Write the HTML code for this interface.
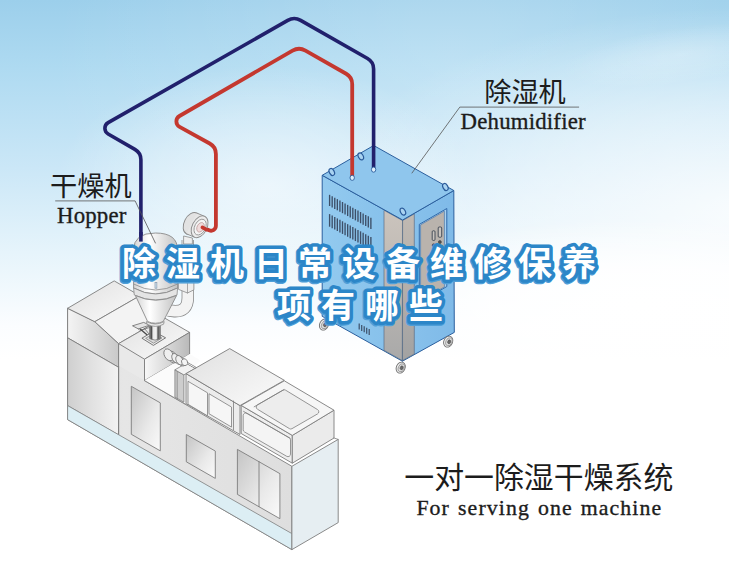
<!DOCTYPE html>
<html><head><meta charset="utf-8"><title>Dehumidifier drying system</title>
<style>
html,body{margin:0;padding:0;background:#fff;}
body{width:729px;height:561px;overflow:hidden;position:relative;font-family:"Liberation Serif",serif;}
svg{position:absolute;left:0;top:0;display:block;}
.t{position:absolute;white-space:nowrap;color:#1c1c1c;font-family:"Liberation Serif",serif;line-height:1;-webkit-text-stroke:0.35px #1c1c1c;}
#hop{left:57.0px;top:205.0px;font-size:22.8px;letter-spacing:0.2px;}
#deh{left:460.6px;top:111.0px;font-size:22.8px;letter-spacing:0.2px;}
#one{left:416.4px;top:498.4px;font-size:21.8px;letter-spacing:1.1px;word-spacing:1.5px;}
</style></head>
<body>
<svg width="729" height="561" viewBox="0 0 729 561" role="img" aria-label="One-to-one dehumidifying and drying system diagram"><title>一对一除湿干燥系统 – For serving one machine</title><defs>
<linearGradient id="bg" x1="0" y1="0" x2="0" y2="1">
 <stop offset="0" stop-color="#9ccfeb"/><stop offset="0.12" stop-color="#aedaf1"/>
 <stop offset="0.30" stop-color="#cbe7f7"/><stop offset="0.45" stop-color="#e6f4fb"/>
 <stop offset="0.58" stop-color="#fbfdff"/><stop offset="0.64" stop-color="#ffffff"/>
</linearGradient>
<radialGradient id="bg2" cx="0.62" cy="0.12" r="0.55">
 <stop offset="0" stop-color="#ffffff" stop-opacity="0.22"/><stop offset="1" stop-color="#ffffff" stop-opacity="0"/>
</radialGradient>
<radialGradient id="bg4" cx="0.5" cy="0.5" r="0.5">
 <stop offset="0" stop-color="#ffffff" stop-opacity="0.82"/><stop offset="0.5" stop-color="#ffffff" stop-opacity="0.46"/><stop offset="1" stop-color="#ffffff" stop-opacity="0"/>
</radialGradient>
<radialGradient id="bg5" cx="0.5" cy="0.5" r="0.5">
 <stop offset="0" stop-color="#ffffff" stop-opacity="1"/><stop offset="0.45" stop-color="#ffffff" stop-opacity="0.85"/><stop offset="1" stop-color="#ffffff" stop-opacity="0"/>
</radialGradient>
<radialGradient id="bg3" cx="0.5" cy="0.5" r="0.5">
 <stop offset="0" stop-color="#ffffff" stop-opacity="0.55"/><stop offset="0.55" stop-color="#ffffff" stop-opacity="0.28"/><stop offset="1" stop-color="#ffffff" stop-opacity="0"/>
</radialGradient>
<linearGradient id="gFrontA" x1="0" y1="0" x2="1" y2="0"><stop offset="0" stop-color="#f4f4f4"/><stop offset="1" stop-color="#c9c9c9"/></linearGradient>
<linearGradient id="gFrontB" x1="0" y1="0" x2="1" y2="0"><stop offset="0" stop-color="#cfcfcf"/><stop offset="0.5" stop-color="#e2e2e2"/><stop offset="1" stop-color="#f2f2f2"/></linearGradient>
<linearGradient id="gBody" x1="0" y1="0" x2="1" y2="0"><stop offset="0" stop-color="#dcdcdc"/><stop offset="0.25" stop-color="#e6e6e6"/><stop offset="1" stop-color="#dedede"/></linearGradient>
<linearGradient id="gRightFace" x1="0" y1="0" x2="1" y2="0"><stop offset="0" stop-color="#f8f8f8"/><stop offset="1" stop-color="#b9b9b9"/></linearGradient>
<linearGradient id="gDoor" x1="0" y1="0" x2="1" y2="1"><stop offset="0" stop-color="#c4c4c4"/><stop offset="0.6" stop-color="#e9e9e9"/><stop offset="1" stop-color="#fafafa"/></linearGradient>
<linearGradient id="gTop" x1="0" y1="0" x2="1" y2="1"><stop offset="0" stop-color="#e0e0e0"/><stop offset="1" stop-color="#fbfbfb"/></linearGradient>
<linearGradient id="gCyl" x1="0" y1="0" x2="1" y2="0"><stop offset="0" stop-color="#d4d4d4"/><stop offset="0.35" stop-color="#ffffff"/><stop offset="1" stop-color="#c2c2c2"/></linearGradient>
<linearGradient id="gDehL" x1="0" y1="0" x2="1" y2="0"><stop offset="0" stop-color="#93caef"/><stop offset="1" stop-color="#84bfea"/></linearGradient>
<linearGradient id="gStrip" x1="0" y1="0" x2="0" y2="1"><stop offset="0" stop-color="#cbc4bd"/><stop offset="0.45" stop-color="#bdb8b3"/><stop offset="1" stop-color="#a9a9a9"/></linearGradient>
<linearGradient id="gStrip2" x1="0" y1="0" x2="0" y2="1"><stop offset="0" stop-color="#c0b9b2"/><stop offset="0.45" stop-color="#b5b0ab"/><stop offset="1" stop-color="#a2a2a2"/></linearGradient>
<linearGradient id="gDehR" x1="0" y1="0" x2="1" y2="0"><stop offset="0" stop-color="#89c2ec"/><stop offset="1" stop-color="#7fbae8"/></linearGradient>
</defs>
<rect width="729" height="561" fill="url(#bg)"/>
<rect width="729" height="561" fill="url(#bg2)"/>
<ellipse cx="265" cy="185" rx="210" ry="120" fill="url(#bg3)"/>
<ellipse cx="745" cy="212" rx="430" ry="205" fill="url(#bg4)"/>
<ellipse cx="640" cy="305" rx="330" ry="85" fill="url(#bg5)"/>
<ellipse cx="680" cy="55" rx="120" ry="28" fill="url(#bg3)" opacity="0.45" transform="rotate(-8 680 55)"/>
<polygon points="322.2,175.3 402.6,220 402.4,361.2 322.2,316.3" fill="url(#gDehL)" stroke="#2b5f9e" stroke-width="1" stroke-linejoin="round" />
<polygon points="402.6,220 453.8,190.5 454.3,332.4 402.4,361.2" fill="url(#gDehR)" stroke="#2b5f9e" stroke-width="1" stroke-linejoin="round" />
<polygon points="384,210.26 402.5,220.54 402.3,360.54 384,350.3" fill="url(#gStrip)" stroke="#5a6f86" stroke-width="0.7" stroke-linejoin="round" />
<polygon points="402.6,220.6 414.3,213.86 414.3,354 402.5,360.54" fill="url(#gStrip2)" stroke="#5a6f86" stroke-width="0.7" stroke-linejoin="round" />
<polygon points="322.2,175.3 373.7,145.5 453.8,190.5 402.6,220" fill="#8fc6ed" stroke="#2b5f9e" stroke-width="1" stroke-linejoin="round" />
<g stroke="#3d4f68" stroke-width="1.35"><line x1="329.6" y1="194.81" x2="329.6" y2="206.01"/><line x1="332.18" y1="196.25" x2="332.18" y2="207.45"/><line x1="334.76" y1="197.68" x2="334.76" y2="208.88"/><line x1="337.34" y1="199.12" x2="337.34" y2="210.32"/><line x1="339.92" y1="200.55" x2="339.92" y2="211.75"/><line x1="342.5" y1="201.99" x2="342.5" y2="213.19"/><line x1="345.08" y1="203.42" x2="345.08" y2="214.62"/><line x1="347.66" y1="204.86" x2="347.66" y2="216.06"/><line x1="350.24" y1="206.29" x2="350.24" y2="217.49"/><line x1="352.82" y1="207.72" x2="352.82" y2="218.92"/><line x1="355.4" y1="209.16" x2="355.4" y2="220.36"/><line x1="357.98" y1="210.59" x2="357.98" y2="221.79"/><line x1="360.56" y1="212.03" x2="360.56" y2="223.23"/><line x1="363.14" y1="213.46" x2="363.14" y2="224.66"/><line x1="365.72" y1="214.9" x2="365.72" y2="226.1"/><line x1="368.3" y1="216.33" x2="368.3" y2="227.53"/><line x1="370.88" y1="217.76" x2="370.88" y2="228.96"/><line x1="329.6" y1="214.11" x2="329.6" y2="226.71"/><line x1="332.18" y1="215.55" x2="332.18" y2="228.15"/><line x1="334.76" y1="216.98" x2="334.76" y2="229.58"/><line x1="337.34" y1="218.42" x2="337.34" y2="231.02"/><line x1="339.92" y1="219.85" x2="339.92" y2="232.45"/><line x1="342.5" y1="221.29" x2="342.5" y2="233.89"/><line x1="345.08" y1="222.72" x2="345.08" y2="235.32"/><line x1="347.66" y1="224.16" x2="347.66" y2="236.76"/><line x1="350.24" y1="225.59" x2="350.24" y2="238.19"/><line x1="352.82" y1="227.02" x2="352.82" y2="239.62"/><line x1="355.4" y1="228.46" x2="355.4" y2="241.06"/><line x1="357.98" y1="229.89" x2="357.98" y2="242.49"/><line x1="360.56" y1="231.33" x2="360.56" y2="243.93"/><line x1="363.14" y1="232.76" x2="363.14" y2="245.36"/><line x1="365.72" y1="234.2" x2="365.72" y2="246.8"/><line x1="368.3" y1="235.63" x2="368.3" y2="248.23"/><line x1="370.88" y1="237.06" x2="370.88" y2="249.66"/></g>
<g stroke="#3d4f68" stroke-width="1.2"><line x1="359.2" y1="323.51" x2="359.2" y2="329.51"/><line x1="361.7" y1="324.91" x2="361.7" y2="330.91"/><line x1="364.2" y1="326.31" x2="364.2" y2="332.31"/><line x1="366.7" y1="327.71" x2="366.7" y2="333.71"/><line x1="369.2" y1="329.11" x2="369.2" y2="335.11"/></g>
<polygon points="419.3,224.38 446.8,208.53 446.8,286.53 419.3,302.38" fill="#a9d2f0" stroke="#2f69aa" stroke-width="1.0" stroke-linejoin="round" />
<polygon points="420.6,224.83 444.4,211.12 444.4,286.92 420.6,300.63" fill="#b9b3ad" stroke="#4a78ae" stroke-width="0.7" stroke-linejoin="round" />
<rect x="432.2" y="230.8" width="2.8" height="9.6" rx="1" fill="#c9c4bf" stroke="#3a4350" stroke-width="0.9"/>
<rect x="438.2" y="227.0" width="3.5" height="10.2" rx="1" fill="#c9c4bf" stroke="#3a4350" stroke-width="0.9"/>
<circle cx="433.7" cy="245.2" r="1.5" fill="#555" stroke="#333" stroke-width="0.5"/>
<circle cx="439.9" cy="242.0" r="1.5" fill="#555" stroke="#333" stroke-width="0.5"/>
<ellipse cx="324.0" cy="324.6" rx="4.4" ry="5.7" transform="rotate(24 324.0 324.6)" fill="#ececec" stroke="#6e6e6e" stroke-width="0.9"/>
<ellipse cx="324.7" cy="324.8" rx="3.0" ry="4.2" transform="rotate(24 324.7 324.8)" fill="#dcdcdc" stroke="#8a8a8a" stroke-width="0.7"/>
<ellipse cx="325.0" cy="324.8" rx="1.5" ry="2.0" transform="rotate(24 325.0 324.8)" fill="#6a6a6a" stroke="#444" stroke-width="0.5"/>
<ellipse cx="400.7" cy="367.6" rx="4.4" ry="5.7" transform="rotate(24 400.7 367.6)" fill="#ececec" stroke="#6e6e6e" stroke-width="0.9"/>
<ellipse cx="401.4" cy="367.8" rx="3.0" ry="4.2" transform="rotate(24 401.4 367.8)" fill="#dcdcdc" stroke="#8a8a8a" stroke-width="0.7"/>
<ellipse cx="401.7" cy="367.8" rx="1.5" ry="2.0" transform="rotate(24 401.7 367.8)" fill="#6a6a6a" stroke="#444" stroke-width="0.5"/>
<ellipse cx="448.2" cy="341.6" rx="4.4" ry="5.7" transform="rotate(24 448.2 341.6)" fill="#ececec" stroke="#6e6e6e" stroke-width="0.9"/>
<ellipse cx="448.9" cy="341.8" rx="3.0" ry="4.2" transform="rotate(24 448.9 341.8)" fill="#dcdcdc" stroke="#8a8a8a" stroke-width="0.7"/>
<ellipse cx="449.2" cy="341.8" rx="1.5" ry="2.0" transform="rotate(24 449.2 341.8)" fill="#6a6a6a" stroke="#444" stroke-width="0.5"/>
<ellipse cx="331.8" cy="172.0" rx="2.4" ry="3.7" transform="rotate(-28 331.8 172.0)" fill="#a9d3f1" stroke="#2a5a9a" stroke-width="1.2"/>
<ellipse cx="360.8" cy="156.4" rx="2.4" ry="3.7" transform="rotate(-28 360.8 156.4)" fill="#a9d3f1" stroke="#2a5a9a" stroke-width="1.2"/>
<ellipse cx="402.9" cy="211.6" rx="2.4" ry="3.7" transform="rotate(-28 402.9 211.6)" fill="#a9d3f1" stroke="#2a5a9a" stroke-width="1.2"/>
<ellipse cx="445.4" cy="187.0" rx="2.4" ry="3.7" transform="rotate(-28 445.4 187.0)" fill="#a9d3f1" stroke="#2a5a9a" stroke-width="1.2"/>
<path d="M140.9,246 L140.9,159.74 A12,12 0 0 0 134.88,149.34 L108.14,133.96 A6.5,6.5 0 0 1 108.17,122.68 L287.76,20.37 A13,13 0 0 1 300.64,20.37 L367.55,58.55 A12,12 0 0 1 373.6,68.97 L373.6,168" fill="none" stroke="#21206c" stroke-width="3.6" stroke-linecap="butt"/>
<path d="M202.4,227.4 L209.15,230.3 A4.84,4.84 0 0 0 215.9,225.85 L215.9,153.97 A12,12 0 0 0 209.71,143.47 L179.59,126.81 A6.2,6.2 0 0 1 179.49,116.01 L292.54,50.64 A13,13 0 0 1 305.48,50.59 L346.14,73.75 A12,12 0 0 1 352.2,84.18 L352.2,176" fill="none" stroke="#c4382f" stroke-width="3.8" stroke-linecap="round"/>
<ellipse cx="352.2" cy="177.8" rx="2.2" ry="2.6" fill="#dfeefa" stroke="#2b5f9e" stroke-width="0.9"/>
<ellipse cx="373.6" cy="169.6" rx="2.2" ry="2.6" fill="#dfeefa" stroke="#2b5f9e" stroke-width="0.9"/>
<polygon points="67.6,308.3 94.8,321.7 118.6,343.6 144.5,359.2 144.5,380.6 291.9,466.3 291.9,549.6 67.6,419.6" fill="url(#gBody)" stroke="#7d7d7d" stroke-width="0.9" stroke-linejoin="round" />
<polygon points="67.6,308.3 94.8,321.7 118.6,343.6 118.6,367.3 67.6,337.8" fill="url(#gFrontA)" stroke="#7d7d7d" stroke-width="0.9" stroke-linejoin="round" />
<polygon points="67.6,337.8 118.6,367.3 118.6,434.96 67.6,405.6" fill="url(#gFrontB)" stroke="#7d7d7d" stroke-width="0.9" stroke-linejoin="round" />
<polygon points="118.6,343.6 144.5,359.2 144.5,380.6 118.6,365.8" fill="#e9e9e9" stroke="none" stroke-width="1" stroke-linejoin="round" />
<polyline points="118.6,343.6 118.6,449.16" fill="none" stroke="#7d7d7d" stroke-width="0.9" stroke-linejoin="round" stroke-linecap="round" />
<polyline points="144.5,359.2 144.5,380.6" fill="none" stroke="#7d7d7d" stroke-width="0.9" stroke-linejoin="round" stroke-linecap="round" />
<polygon points="67.6,405.6 291.9,533.6 291.9,549.6 67.6,419.6" fill="#dceef4" stroke="#7d7d7d" stroke-width="0.8" stroke-linejoin="round" />
<polygon points="291.9,466.3 338.2,439.4 338.2,522.6 291.9,549.6" fill="#e6eef2" stroke="#7d7d7d" stroke-width="0.9" stroke-linejoin="round" />
<polygon points="67.6,308.3 114.2,280.9 139.98,295.72 94.8,321.7" fill="url(#gTop)" stroke="#7d7d7d" stroke-width="0.9" stroke-linejoin="round" />
<polygon points="94.8,321.7 139.98,295.72 163.84,317.59 118.6,343.6" fill="#f3f3f3" stroke="#7d7d7d" stroke-width="0.9" stroke-linejoin="round" />
<polygon points="118.6,343.6 163.84,317.59 189.6,332.4 144.5,359.2" fill="url(#gTop)" stroke="#7d7d7d" stroke-width="0.9" stroke-linejoin="round" />
<polygon points="144.5,359.2 189.6,332.4 189.6,354.1 144.5,380.6" fill="url(#gRightFace)" stroke="#7d7d7d" stroke-width="0.9" stroke-linejoin="round" />
<polygon points="144.5,380.6 189.6,354.1 200.5,360.4 186,373.6 186,404.4" fill="#fbfbfb" stroke="none" stroke-width="1" stroke-linejoin="round" />
<polyline points="144.5,380.6 186,404.4" fill="none" stroke="#7d7d7d" stroke-width="0.8" stroke-linejoin="round" stroke-linecap="round" />
<polygon points="131.3,386.3 160.3,402.86 160.3,450.86 131.3,434.3" fill="url(#gDoor)" stroke="#7d7d7d" stroke-width="0.9" stroke-linejoin="round" />
<polygon points="186.3,434.5 215.3,451.06 215.3,478.36 186.3,461.8" fill="url(#gDoor)" stroke="#7d7d7d" stroke-width="0.9" stroke-linejoin="round" />
<polygon points="237.4,449.4 279.9,473.67 279.9,518.67 237.4,494.4" fill="url(#gDoor)" stroke="#7d7d7d" stroke-width="0.9" stroke-linejoin="round" />
<polyline points="259,461.7 259,506.7" fill="none" stroke="#7d7d7d" stroke-width="0.9" stroke-linejoin="round" stroke-linecap="round" />
<polygon points="174.9,369.8 183.9,374.9 183.9,402.2 174.9,397.1" fill="#cdcdcd" stroke="#7d7d7d" stroke-width="0.8" stroke-linejoin="round" />
<polyline points="177.2,371.6 177.2,398.6" fill="none" stroke="#7d7d7d" stroke-width="0.7" stroke-linejoin="round" stroke-linecap="round" />
<polygon points="174.9,369.8 186.5,363.2 195.5,368.2 183.9,374.9" fill="#f2f2f2" stroke="#7d7d7d" stroke-width="0.8" stroke-linejoin="round" />
<polygon points="186,373.6 240,405.6 240,434.5 186,403.7" fill="#ececec" stroke="#7d7d7d" stroke-width="0.9" stroke-linejoin="round" />
<polygon points="186,373.6 229.7,348.6 284.3,380.3 240,405.6" fill="url(#gTop)" stroke="#7d7d7d" stroke-width="0.9" stroke-linejoin="round" />
<polygon points="188,381.29 207.5,392.84 207.5,415.84 188,404.29" fill="#f6f6f6" stroke="#7d7d7d" stroke-width="0.8" stroke-linejoin="round" />
<polygon points="209,393.73 231.5,407.06 231.5,427.06 209,413.73" fill="#f6f6f6" stroke="#7d7d7d" stroke-width="0.8" stroke-linejoin="round" />
<polyline points="233.5,401 233.5,430" fill="none" stroke="#7d7d7d" stroke-width="0.8" stroke-linejoin="round" stroke-linecap="round" />
<polygon points="241.2,405.4 292.3,435.4 292.3,463.2 241.2,433.5" fill="#eeeeee" stroke="#7d7d7d" stroke-width="0.9" stroke-linejoin="round" />
<polygon points="292.3,435.4 334,410.2 334,438 292.3,463.2" fill="#ebebeb" stroke="#7d7d7d" stroke-width="0.9" stroke-linejoin="round" />
<polygon points="241.2,405.4 284.3,380.8 334,410.2 292.3,435.4" fill="#f6f6f6" stroke="#7d7d7d" stroke-width="0.9" stroke-linejoin="round" />
<path d="M253.8,407 L283.02,390.14 A2.5,2.5 0 0 1 285.57,390.17 L317.59,409.61 A2.5,2.5 0 0 1 317.54,413.91 L291.98,428.66 A2.5,2.5 0 0 1 289.43,428.63 L257.41,409.19 A2.5,2.5 0 0 1 257.46,404.89 L284.3,389.4" fill="#ededed" stroke="#7d7d7d" stroke-width="0.8"/>
<path d="M243.2,411.2 L289.25,437.78 A2.5,2.5 0 0 1 290.5,439.94 L290.5,454.17 A2.5,2.5 0 0 1 286.75,456.34 L244.45,431.92 A2.5,2.5 0 0 1 243.2,429.76 L243.2,415.53 A2.5,2.5 0 0 1 246.95,413.36 L290.5,438.5" fill="#f4f4f4" stroke="#7d7d7d" stroke-width="0.8"/>
<polyline points="334,438 338.2,439.4" fill="none" stroke="#7d7d7d" stroke-width="0.8" stroke-linejoin="round" stroke-linecap="round" />
<path d="M187.8,240 L187.8,298 Q187.8,311.6 174.5,311.2 L168,310.4" fill="none" stroke="#8a8a8a" stroke-width="12.4" stroke-linecap="butt"/>
<path d="M187.8,240 L187.8,298 Q187.8,311.6 174.5,311.2 L167.5,310.4" fill="none" stroke="#f3f3f3" stroke-width="10.8" stroke-linecap="butt"/>
<polygon points="178.4,280 193.9,280 193.9,289.8 187.5,293 178.4,289.3" fill="#ededed" stroke="#8a8a8a" stroke-width="0.8" stroke-linejoin="round" />
<polyline points="187.5,293 187.5,282" fill="none" stroke="#8a8a8a" stroke-width="0.7" stroke-linejoin="round" stroke-linecap="round" />
<path d="M133.6,250 Q133.6,233 155.5,233 Q177.6,233 177.6,250 L177.6,288 Q155.6,300 133.6,288 Z" fill="url(#gCyl)" stroke="#8a8a8a" stroke-width="0.9"/>
<path d="M133.6,284 Q155.6,296 177.6,284" fill="none" stroke="#8a8a8a" stroke-width="0.8"/>
<path d="M133.6,288 Q155.6,300 177.6,288 L177,295 Q155.6,305 134.3,295 Z" fill="#e4e4e4" stroke="#8a8a8a" stroke-width="0.8"/>
<rect x="155.0" y="282.6" width="1.9" height="5.6" fill="#cfe3f2" stroke="#7d8ea0" stroke-width="0.6"/>
<path d="M140.9,232 L140.9,241.6" stroke="#21206c" stroke-width="3.6" fill="none"/>
<path d="M135.4,295.5 Q155.6,305 176.6,295.5 L163.2,321.5 Q155.5,325 147.6,321.5 Z" fill="url(#gCyl)" stroke="#8a8a8a" stroke-width="0.9"/>
<polygon points="132.5,325.8 143.7,322.4 149.6,325.2 138.3,328.9" fill="#e4e4e4" stroke="#6a6a6a" stroke-width="0.8" stroke-linejoin="round" />
<polyline points="138.3,328.9 140.2,330.6 151,327" fill="none" stroke="#6a6a6a" stroke-width="0.7" stroke-linejoin="round" stroke-linecap="round" />
<polyline points="140.5,329.2 147.8,335.6" fill="none" stroke="#4a4a4a" stroke-width="1.3" stroke-linejoin="round" stroke-linecap="round" />
<polyline points="144.2,328.2 149.4,334.4" fill="none" stroke="#6a6a6a" stroke-width="0.8" stroke-linejoin="round" stroke-linecap="round" />
<polygon points="141.9,338.2 153.6,331.4 165.6,337.8 153.4,345.4" fill="#ececec" stroke="#6a6a6a" stroke-width="0.9" stroke-linejoin="round" />
<polygon points="145.6,338.3 153.6,333.7 161.9,338 153.5,343.2" fill="#d9d9d9" stroke="#7a7a7a" stroke-width="0.7" stroke-linejoin="round" />
<defs><linearGradient id="gNeck" x1="0" y1="0" x2="1" y2="0"><stop offset="0" stop-color="#8a8a8a"/><stop offset="0.18" stop-color="#4e4e4e"/><stop offset="0.32" stop-color="#e8e8e8"/><stop offset="0.62" stop-color="#f4f4f4"/><stop offset="0.78" stop-color="#555"/><stop offset="1" stop-color="#9a9a9a"/></linearGradient></defs>
<path d="M149.6,325.4 L149.6,338.6 Q155,341.6 160.4,338.6 L160.4,325.4 Z" fill="url(#gNeck)" stroke="#6a6a6a" stroke-width="0.7"/>
<path d="M146.4,321.6 Q155.3,326.4 164.2,321.6 L163.6,324.2 Q155.3,328.6 147,324.2 Z" fill="#e9e9e9" stroke="#8a8a8a" stroke-width="0.8"/>
<path d="M183.6,236 L183.6,244 L192.4,244 L192.4,238 Z" fill="#efefef" stroke="#8a8a8a" stroke-width="0.8"/>
<ellipse cx="191.6" cy="223.4" rx="7.4" ry="11.6" transform="rotate(27 191.6 223.4)" fill="#e2e2e2" stroke="#8a8a8a" stroke-width="0.9"/>
<polygon points="196.87,213.06 204.87,216.46 194.33,237.14 186.33,233.74" fill="#e6e6e6" stroke="none" stroke-width="1" stroke-linejoin="round" />
<polyline points="196.87,213.06 204.87,216.46" fill="none" stroke="#8a8a8a" stroke-width="0.9" stroke-linejoin="round" stroke-linecap="round" />
<polyline points="186.33,233.74 194.33,237.14" fill="none" stroke="#8a8a8a" stroke-width="0.9" stroke-linejoin="round" stroke-linecap="round" />
<ellipse cx="199.6" cy="226.8" rx="7.4" ry="11.6" transform="rotate(27 199.6 226.8)" fill="#ececec" stroke="#8a8a8a" stroke-width="0.9"/>
<ellipse cx="200.1" cy="227.10000000000002" rx="5.4" ry="8.4" transform="rotate(27 200.1 227.10000000000002)" fill="#f4f4f4" stroke="#8f8f8f" stroke-width="0.8"/>
<ellipse cx="200.5" cy="227.3" rx="3.4" ry="5.0" transform="rotate(27 200.5 227.3)" fill="#f0dcdc" stroke="#b99" stroke-width="0.7"/>
<path d="M202.4,227.4 L206.5,229.6" stroke="#c4382f" stroke-width="3.6" stroke-linecap="round"/>
<polyline points="186,362.4 195.2,367.6" fill="none" stroke="#777" stroke-width="2.2" stroke-linejoin="round" stroke-linecap="round" />
<polyline points="186,362.4 195.2,367.6" fill="none" stroke="#f2f2f2" stroke-width="1.0" stroke-linejoin="round" stroke-linecap="round" />
<ellipse cx="172.5" cy="357.05" rx="4.2" ry="6.3" transform="rotate(-28 172.5 357.05)" fill="#e6e6e6" stroke="#777" stroke-width="0.8"/><polygon points="165.64,349.24 169.54,351.49 175.45,362.61 171.56,360.36" fill="#e6e6e6" stroke="none" stroke-width="1" stroke-linejoin="round" /><polyline points="165.64,349.24 169.54,351.49" fill="none" stroke="#777" stroke-width="0.8" stroke-linejoin="round" stroke-linecap="round" /><polyline points="171.56,360.36 175.45,362.61" fill="none" stroke="#777" stroke-width="0.8" stroke-linejoin="round" stroke-linecap="round" /><ellipse cx="168.6" cy="354.8" rx="4.2" ry="6.3" transform="rotate(-28 168.6 354.8)" fill="#efefef" stroke="#777" stroke-width="0.8"/>
<ellipse cx="178" cy="359.7" rx="3.2" ry="5.0" transform="rotate(-28 178 359.7)" fill="#e6e6e6" stroke="#777" stroke-width="0.8"/><polygon points="173.05,353.79 175.65,355.29 180.35,364.11 177.75,362.61" fill="#e6e6e6" stroke="none" stroke-width="1" stroke-linejoin="round" /><polyline points="173.05,353.79 175.65,355.29" fill="none" stroke="#777" stroke-width="0.8" stroke-linejoin="round" stroke-linecap="round" /><polyline points="177.75,362.61 180.35,364.11" fill="none" stroke="#777" stroke-width="0.8" stroke-linejoin="round" stroke-linecap="round" /><ellipse cx="175.4" cy="358.2" rx="3.2" ry="5.0" transform="rotate(-28 175.4 358.2)" fill="#efefef" stroke="#777" stroke-width="0.8"/>
<ellipse cx="181.31" cy="361.3" rx="3.2" ry="5.0" transform="rotate(-28 181.31 361.3)" fill="#e6e6e6" stroke="#777" stroke-width="0.8"/><polygon points="177.05,355.79 178.96,356.89 183.65,365.71 181.75,364.61" fill="#e6e6e6" stroke="none" stroke-width="1" stroke-linejoin="round" /><polyline points="177.05,355.79 178.96,356.89" fill="none" stroke="#777" stroke-width="0.8" stroke-linejoin="round" stroke-linecap="round" /><polyline points="181.75,364.61 183.65,365.71" fill="none" stroke="#777" stroke-width="0.8" stroke-linejoin="round" stroke-linecap="round" /><ellipse cx="179.4" cy="360.2" rx="3.2" ry="5.0" transform="rotate(-28 179.4 360.2)" fill="#efefef" stroke="#777" stroke-width="0.8"/>
<ellipse cx="184.6" cy="362.2" rx="2.9" ry="3.6" transform="rotate(-28 184.6 362.2)" fill="#f4f4f4" stroke="#777" stroke-width="0.8"/>
<polyline points="55.6,200.9 135.1,200.9 155.4,243" fill="none" stroke="#555" stroke-width="0.8" stroke-linejoin="round" stroke-linecap="round" />
<polyline points="578.7,107.1 459.8,107.1 412,173" fill="none" stroke="#555" stroke-width="0.8" stroke-linejoin="round" stroke-linecap="round" />
<text x="50" y="195.8" font-size="27.2" fill="#1c1c1c" font-family="'Liberation Sans','Noto Sans CJK SC',sans-serif">干燥机</text>
<text x="484.2" y="102.4" font-size="27.2" fill="#1c1c1c" font-family="'Liberation Sans','Noto Sans CJK SC',sans-serif">除湿机</text>
<text x="404.3" y="488.2" font-size="29.9" fill="#1c1c1c" font-family="'Liberation Sans','Noto Sans CJK SC',sans-serif">一对一除湿干燥系统</text>
<g font-family="'Liberation Sans','Noto Sans CJK SC',sans-serif" font-weight="bold" font-size="34" letter-spacing="10" stroke-linejoin="round">
<g transform="translate(-0.7,0.7)" fill="#4f9fd8" stroke="#4f9fd8" stroke-width="7.8"><text x="122" y="276">除湿机日常设备维修保养</text><text x="277" y="318">项有哪些</text></g>
<g fill="#ffffff" stroke="#2c86c8" stroke-width="7" paint-order="stroke"><text x="122" y="276">除湿机日常设备维修保养</text><text x="277" y="318">项有哪些</text></g>
</g></svg>
<div class="t" id="hop">Hopper</div>
<div class="t" id="deh">Dehumidifier</div>
<div class="t" id="one">For serving one machine</div>
</body></html>
